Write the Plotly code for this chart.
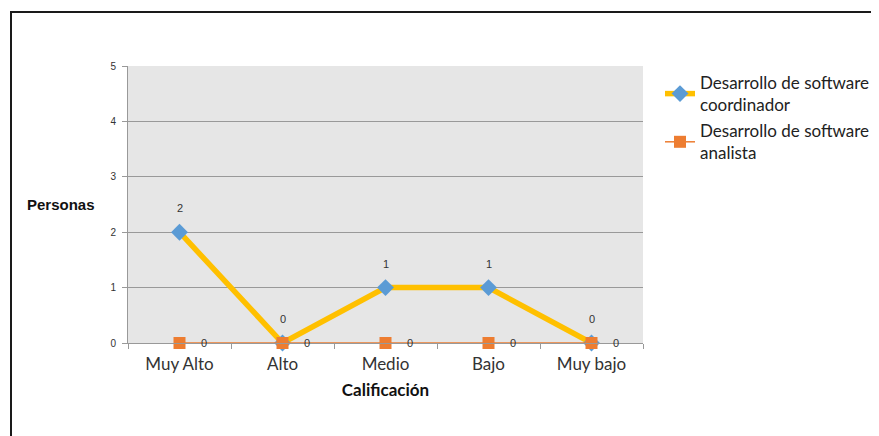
import plotly.graph_objects as go

categorias = ["Muy Alto", "Alto", "Medio", "Bajo", "Muy bajo"]
coordinador = [2, 0, 1, 1, 0]
analista = [0, 0, 0, 0, 0]
nombre_coord = "Desarrollo de software<br>coordinador"
nombre_anal = "Desarrollo de software<br>analista"
y_ticks = [0, 1, 2, 3, 4, 5]

W, H = 879, 436
OFF = 8  # page body margin
L, T = 128 - OFF, 66 - OFF
pw, ph = 515, 277
R, B = W - L - pw, H - T - ph


def px(xr):
    return (xr - OFF - L) / pw


def py(yr):
    return 1 - (yr - OFF - T) / ph


fig = go.Figure()
fig.add_trace(go.Scatter(
    x=categorias, y=coordinador, mode="lines+markers", name=nombre_coord,
    legendgroup="a",
    line=dict(color="#FFC000", width=5.5), cliponaxis=False,
    marker=dict(symbol="diamond", size=13, color="#5B9BD5"),
))
fig.add_trace(go.Scatter(
    x=categorias, y=analista, mode="lines+markers", name=nombre_anal,
    legendgroup="b",
    line=dict(color="#ED7D31", width=1.5), cliponaxis=False,
    marker=dict(symbol="square", size=12, color="#ED7D31"),
))

annotations = []
for c, v in zip(categorias, coordinador):
    annotations.append(dict(x=c, y=v, text=str(v), showarrow=False, yshift=24,
                            font=dict(family="Liberation Sans, Arial", size=11, color="#333")))
for c, v in zip(categorias, analista):
    annotations.append(dict(x=c, y=v, text=str(v), showarrow=False, xshift=24,
                            font=dict(family="Liberation Sans, Arial", size=11, color="#333")))
annotations.append(dict(xref="paper", yref="paper", x=px(61), y=py(204),
                        text="<b>Personas</b>", showarrow=False, xanchor="center", yanchor="middle",
                        font=dict(family="Liberation Sans, Arial", size=15, color="#111")))

fig.update_layout(
    width=W, height=H,
    margin=dict(l=L, r=R, t=T, b=B),
    paper_bgcolor="white",
    plot_bgcolor="#E6E6E6",
    showlegend=True,
    legend=dict(x=px(660), y=py(65), xanchor="left", yanchor="top",
                traceorder="grouped", tracegroupgap=1,
                font=dict(family="Lato, Open Sans", size=17, color="#222"),
                bgcolor="rgba(0,0,0,0)"),
    annotations=annotations,
    shapes=[dict(type="rect", xref="paper", yref="paper",
                 x0=px(11), x1=px(900),
                 y0=py(470), y1=py(12),
                 line=dict(color="#1a1a1a", width=2), layer="below")],
    xaxis=dict(
        type="category", range=[-0.5, 4.5],
        showgrid=False, showline=True, linecolor="#999", linewidth=1,
        ticks="outside", tickson="boundaries", ticklen=5, tickcolor="#999",
        ticklabelstandoff=6,
        tickfont=dict(family="Lato, Open Sans", size=17, color="#333"),
        title=dict(text="<b>Calificación</b>", standoff=10,
                   font=dict(family="Lato, Open Sans", size=17, color="#111")),
    ),
    yaxis=dict(
        range=[0, 5], tickvals=y_ticks,
        showgrid=True, gridcolor="#999999", gridwidth=1,
        showline=True, linecolor="#999", linewidth=1,
        ticks="outside", ticklen=5, tickcolor="#999",
        ticklabelstandoff=4,
        tickfont=dict(family="Liberation Sans, Arial", size=10, color="#333"),
        zeroline=False,
    ),
)

fig.write_html("out.html")
